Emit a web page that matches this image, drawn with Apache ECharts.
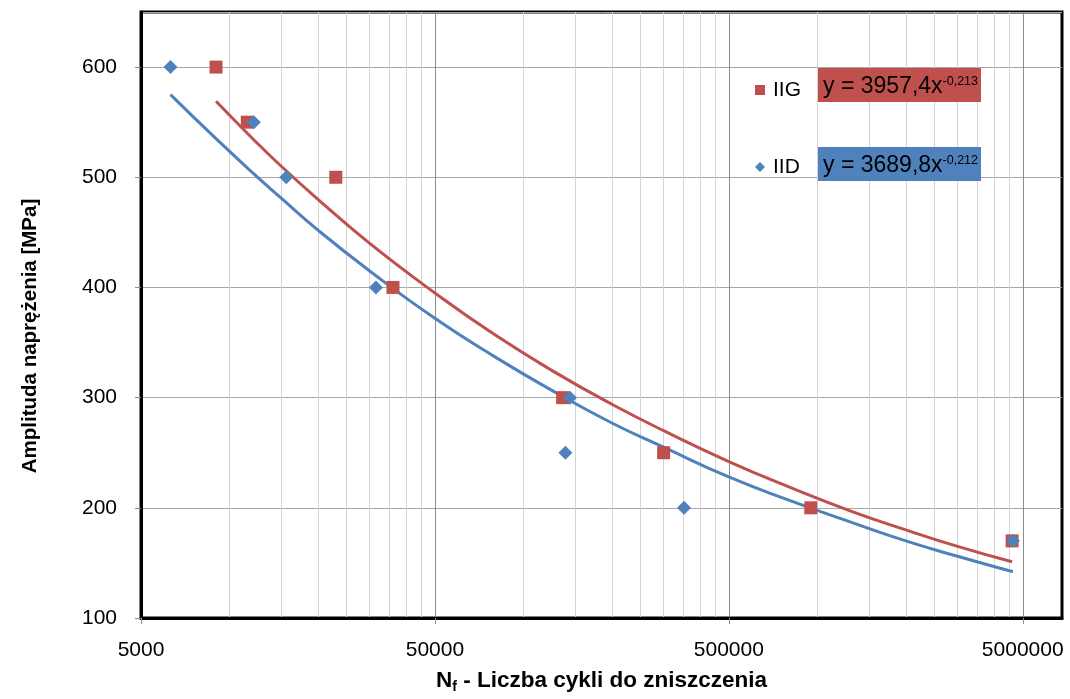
<!DOCTYPE html>
<html>
<head>
<meta charset="utf-8">
<script src="https://cdn.jsdelivr.net/npm/echarts@6/dist/echarts.min.js"></script>
<style>
  html, body { margin: 0; padding: 0; background: #fff; }
  #chart { width: 1070px; height: 699px; }
</style>
</head>
<body>
<div id="chart"></div>
<script>
// próbki IIG (kwadraty)
var iigCycles = [9000, 11500, 23000, 36000, 136000, 300000, 950000, 4600000];
var iigStress = [600, 550, 500, 400, 300, 250, 200, 170];
// próbki IID (romby)
var iidCycles = [6300, 12100, 15600, 31500, 144000, 139000, 352000, 4630000];
var iidStress = [600, 550, 500, 400, 300, 250, 200, 170];
// linie trendu
var iigTrendCycles = [9000, 12000, 15000, 20000, 30000, 50000, 80000, 130000, 200000, 300000, 500000, 800000, 1300000, 2000000, 3000000, 4600000];
var iigTrendStress = [569, 535, 510, 480, 440, 395, 357, 322, 294, 270, 242, 219, 197, 180, 165, 151];
var iidTrendCycles = [6300, 9000, 12000, 15000, 20000, 30000, 50000, 80000, 130000, 200000, 300000, 500000, 800000, 1300000, 2000000, 3000000, 4630000];
var iidTrendStress = [575, 535, 504, 481, 452, 415, 372, 337, 304, 277, 255, 228, 207, 187, 170, 156, 142];
// podziałka osi X
var majorTicks = [5000, 50000, 500000, 5000000];
var minorTicks = [10000, 15000, 20000, 25000, 30000, 35000, 40000, 45000,
  100000, 150000, 200000, 250000, 300000, 350000, 400000, 450000,
  1000000, 1500000, 2000000, 2500000, 3000000, 3500000, 4000000, 4500000];

var RED = "#C0504D";
var BLUE = "#4F81BD";
var FONT = "'Liberation Sans', Arial, sans-serif";

function pairs(xs, ys) {
  return xs.map(function(x, i) { return [x, ys[i]]; });
}

// pole z równaniem trendu
function eqBox(top, color, main, sup) {
  return {
    type: "group",
    left: 818,
    top: top,
    z: 100,
    children: [
      { type: "rect", z: 100, shape: { x: 0, y: 0, width: 163, height: 34 }, style: { fill: color } },
      {
        type: "text",
        z: 101,
        x: 5,
        y: 7,
        style: {
          text: "{a|" + main + "}{s|" + sup + "}",
          verticalAlign: "top",
          rich: {
            a: { fontSize: 23, fill: "#000", fontFamily: FONT, lineHeight: 24, verticalAlign: "top" },
            s: { fontSize: 12.5, fill: "#000", fontFamily: FONT, lineHeight: 15, verticalAlign: "top" }
          }
        }
      }
    ]
  };
}

var chart = echarts.init(document.getElementById("chart"));

chart.setOption({
  animation: false,
  grid: {
    left: 141,
    right: 8,
    top: 12,
    bottom: 81,
    show: true,
    borderColor: "#000",
    borderWidth: 3,
    containLabel: false,
    outerBoundsMode: "none"
  },
  legend: {
    data: ["IIG", "IID"],
    orient: "vertical",
    left: 750,
    top: 73,
    itemWidth: 10,
    itemHeight: 10,
    itemGap: 53,
    textStyle: { fontSize: 21, color: "#000", fontFamily: FONT, lineHeight: 24, padding: [0, 0, 0, 3] }
  },
  xAxis: [
    {
      type: "log",
      logBase: 10,
      min: 5000,
      max: 6800000,
      name: "{n|N}{s|f}{n| - Liczba cykli do zniszczenia}",
      nameLocation: "middle",
      nameGap: 50,
      nameTextStyle: {
        rich: {
          n: { fontSize: 22.5, fontWeight: "bold", color: "#000", fontFamily: FONT },
          s: { fontSize: 14, fontWeight: "bold", color: "#000", fontFamily: FONT, padding: [12, 0, 0, 0] }
        }
      },
      axisLine: { show: true, lineStyle: { color: "#000", width: 3 } },
      axisTick: { show: true, customValues: majorTicks, length: 6, lineStyle: { color: "#8c8c8c" } },
      axisLabel: {
        customValues: majorTicks,
        margin: 22,
        fontSize: 21,
        color: "#000",
        fontFamily: FONT,
        formatter: function(v) { return String(v); }
      },
      splitLine: { show: true, lineStyle: { color: "#8c8c8c", width: 1 } },
      minorTick: { show: false },
      minorSplitLine: { show: false }
    },
    {
      type: "log",
      logBase: 10,
      min: 5000,
      max: 6800000,
      axisLine: { show: false },
      axisTick: { show: false, customValues: minorTicks },
      axisLabel: { show: false, customValues: minorTicks },
      splitLine: { show: true, lineStyle: { color: "#d4d4d4", width: 1 } }
    }
  ],
  yAxis: {
    type: "value",
    min: 100,
    max: 650,
    interval: 100,
    name: "Amplituda naprężenia [MPa]",
    nameLocation: "middle",
    nameGap: 100,
    nameTextStyle: { fontSize: 20.5, fontWeight: "bold", color: "#000", fontFamily: FONT, padding: [0, 42, 0, 0] },
    axisLine: { show: true, lineStyle: { color: "#000", width: 3 } },
    axisTick: { show: true, length: 6, lineStyle: { color: "#8c8c8c" } },
    axisLabel: { fontSize: 21, color: "#000", fontFamily: FONT, margin: 24, showMaxLabel: false },
    splitLine: { show: true, lineStyle: { color: "#a6a6a6", width: 1 } }
  },
  graphic: [
    eqBox(68, RED, "y = 3957,4x", "-0,213"),
    eqBox(147, BLUE, "y = 3689,8x", "-0,212")
  ],
  series: [
    {
      name: "IIG trend",
      type: "line",
      data: pairs(iigTrendCycles, iigTrendStress),
      smooth: true,
      showSymbol: false,
      lineStyle: { color: RED, width: 3 },
      itemStyle: { color: RED },
      z: 2
    },
    {
      name: "IID trend",
      type: "line",
      data: pairs(iidTrendCycles, iidTrendStress),
      smooth: true,
      showSymbol: false,
      lineStyle: { color: BLUE, width: 3 },
      itemStyle: { color: BLUE },
      z: 2
    },
    {
      name: "IIG",
      type: "scatter",
      symbol: "rect",
      symbolSize: 13,
      data: pairs(iigCycles, iigStress),
      itemStyle: { color: RED, opacity: 1 },
      z: 3
    },
    {
      name: "IID",
      type: "scatter",
      symbol: "diamond",
      symbolSize: 14,
      data: pairs(iidCycles, iidStress),
      itemStyle: { color: BLUE, opacity: 1 },
      z: 4
    }
  ]
});
</script>
</body>
</html>
